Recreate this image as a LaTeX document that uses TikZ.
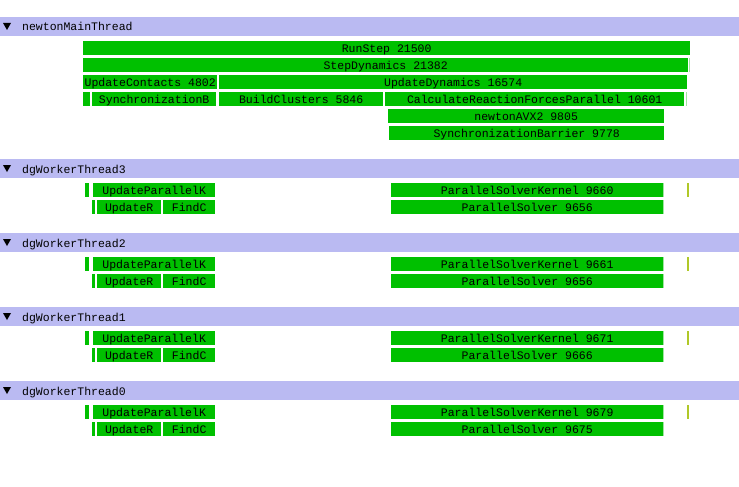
\documentclass[tikz,border=0pt]{standalone}
\usepackage{fontspec}
\setmonofont{Liberation Mono}
\definecolor{hdrc}{RGB}{186,186,242}
\definecolor{barg}{RGB}{0,192,0}
\definecolor{paleg}{RGB}{160,228,160}
\definecolor{olivec}{RGB}{176,200,40}
\begin{document}
\begin{tikzpicture}[x=1pt,y=-1pt,
  lbl/.style={font=\ttfamily\fontsize{11.5}{12}\selectfont, text=black, inner sep=0pt},
  hdr/.style={fill=hdrc, draw=none, anchor=north west, minimum width=739pt, minimum height=19pt, inner sep=0pt},
  htext/.style={lbl, anchor=base west},
  bar/.style={lbl, fill=barg, draw=none, anchor=north west, minimum height=14pt, text height=9.5pt, text depth=0.5pt},
  fringe/.style={fill=paleg, draw=none, anchor=north west, minimum height=14pt, minimum width=1.5pt, inner sep=0pt},
  tick/.style={fill=olivec, draw=none, anchor=north west, minimum height=14pt, minimum width=2.5pt, inner sep=0pt},
  tri/.style={fill=black}]
\useasboundingbox (0,0) rectangle (739,487);
% ---- main thread
\node[hdr] (h0) at (0,17) {};
\fill[tri] (3,23) -- (11,23) -- (7,30) -- cycle;
\node[htext] (t0) at (22,31) {newtonMainThread};
\node[bar, minimum width=607pt] (rs) at (83,41) {RunStep 21500};
\node[bar, minimum width=605pt] (sd) at (83,58) {StepDynamics 21382};
\node[fringe] (sdf) at (688.5,58) {};
\node[bar, minimum width=134pt] (uc) at (83,75) {UpdateContacts 4802};
\node[bar, minimum width=468pt] (ud) at (219,75) {UpdateDynamics 16574};
\node[bar, minimum width=7pt] (sm0) at (83,92) {};
\node[bar, minimum width=124pt] (sb) at (92,92) {SynchronizationB};
\node[bar, minimum width=164pt] (bc) at (219,92) {BuildClusters 5846};
\node[bar, minimum width=299pt] (crf) at (385,92) {CalculateReactionForcesParallel 10601};
\node[fringe] (crff) at (685.5,92) {};
\node[fringe] (avxf) at (387.5,109) {};
\node[bar, minimum width=276pt] (avx) at (388,109) {newtonAVX2 9805};
\node[bar, minimum width=275pt] (sbar) at (389,126) {SynchronizationBarrier 9778};
% ---- worker threads
\foreach \n/\H/\k/\s in {3/159/9660/9656, 2/233/9661/9656, 1/307/9671/9666, 0/381/9679/9675}{
  \node[hdr] (h\n) at (0,\H) {};
  \fill[tri] (3,\H+6) -- (11,\H+6) -- (7,\H+13) -- cycle;
  \node[htext] (t\n) at (22,\H+14) {dgWorkerThread\n};
  \node[bar, minimum width=4pt] (tb\n) at (85,\H+24) {};
  \node[bar, minimum width=122pt] (upk\n) at (93,\H+24) {UpdateParallelK};
  \node[bar, minimum width=272pt] (psk\n) at (391,\H+24) {ParallelSolverKernel \k};
  \node[fringe] (pskf\n) at (662.5,\H+24) {};
  \node[tick] (mk\n) at (686.5,\H+24) {};
  \node[bar, minimum width=3pt] (th\n) at (92,\H+41) {};
  \node[bar, minimum width=64pt] (ur\n) at (97,\H+41) {UpdateR};
  \node[bar, minimum width=52pt] (fc\n) at (163,\H+41) {FindC};
  \node[bar, minimum width=272pt] (ps\n) at (391,\H+41) {ParallelSolver \s};
  \node[fringe] (psf\n) at (662.5,\H+41) {};
}
\end{tikzpicture}
\end{document}
